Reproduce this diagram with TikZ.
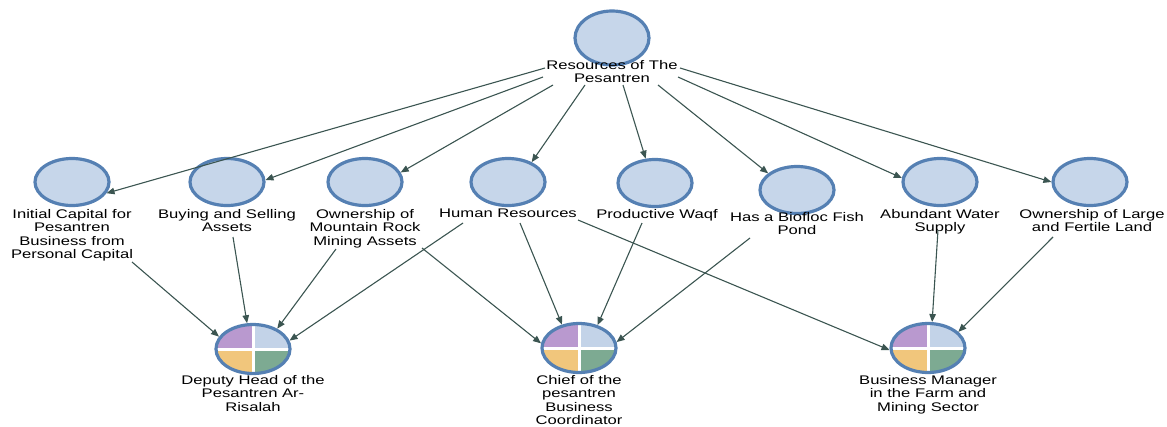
\documentclass[tikz,border=0pt]{standalone}
\usepackage{fontspec}
\setmainfont{Liberation Sans}[FakeStretch=1.33]
\usetikzlibrary{shapes.geometric,arrows.meta,calc}

\definecolor{rim}{HTML}{5580B3}
\definecolor{rimlight}{HTML}{9DB8DC}
\definecolor{face}{HTML}{C6D6EA}
\definecolor{qpurple}{HTML}{B999CF}
\definecolor{qblue}{HTML}{C3D3E8}
\definecolor{qgold}{HTML}{F1C67C}
\definecolor{qgreen}{HTML}{7DAA92}
\definecolor{linkcol}{HTML}{3B5551}

\tikzset{
  res/.style={ellipse, draw=rim, fill=face, line width=3.2pt,
    minimum width=74pt, minimum height=47pt, inner sep=0pt},
  role/.style={ellipse, draw=rim, line width=3.2pt,
    minimum width=74pt, minimum height=49pt, inner sep=0pt,
    path picture={
      \fill[qpurple] (path picture bounding box.center) rectangle (path picture bounding box.north west);
      \fill[qblue] (path picture bounding box.center) rectangle (path picture bounding box.north east);
      \fill[qgold] (path picture bounding box.center) rectangle (path picture bounding box.south west);
      \fill[qgreen] (path picture bounding box.center) rectangle (path picture bounding box.south east);
      \draw[white, line width=3pt]
        (path picture bounding box.north) -- (path picture bounding box.south)
        (path picture bounding box.west) -- (path picture bounding box.east);
    }},
  lbl/.style={anchor=north, inner sep=0pt, align=center,
    font=\fontsize{12.5}{13.5}\selectfont},
  link/.style={draw=linkcol, line width=1.1pt,
    -{Triangle[length=8pt,width=6.5pt]}},
}

\begin{document}
\begin{tikzpicture}[x=1pt, y=-1pt]
  \useasboundingbox (0,0) rectangle (1167,426);

  % source of all resources
  \node[res, minimum height=54pt] (top) at (612,38) {};
  \node[lbl] (topl) at (612,60) {Resources of The\\Pesantren};

  % resources
  \node[res] (ic) at (72,182) {};
  \node[res] (bs) at (227,182) {};
  \node[res] (mr) at (365,182) {};
  \node[res] (hr) at (508,182) {};
  \node[res] (pw) at (655,183) {};
  \node[res] (bf) at (797,190) {};
  \node[res] (aw) at (940,182) {};
  \node[res] (lf) at (1090,182) {};

  \node[lbl] (icl) at (72,209) {Initial Capital for\\Pesantren\\Business from\\Personal Capital};
  \node[lbl] (bsl) at (227,209) {Buying and Selling\\Assets};
  \node[lbl] (mrl) at (365,209) {Ownership of\\Mountain Rock\\Mining Assets};
  \node[lbl] (hrl) at (508,209) {Human Resources};
  \node[lbl] (pwl) at (657,209) {Productive Waqf};
  \node[lbl] (bfl) at (797,212) {Has a Biofloc Fish\\Pond};
  \node[lbl] (awl) at (940,209) {Abundant Water\\Supply};
  \node[lbl] (lfl) at (1092,209) {Ownership of Large\\and Fertile Land};

  % roles
  \node[role] (dh) at (253,349) {};
  \node[role] (cb) at (579,348) {};
  \node[role] (bm) at (928,348) {};

  \node[lbl] (dhl) at (253,375) {Deputy Head of the\\Pesantren Ar-\\Risalah};
  \node[lbl] (cbl) at (579,375) {Chief of the\\pesantren\\Business\\Coordinator};
  \node[lbl] (bml) at (928,375) {Business Manager\\in the Farm and\\Mining Sector};

  % resources of the pesantren
  \draw[link] ($(topl.north)+(-67,8)$) -- (ic.-18);
  \draw[link] ($(topl.north)+(-69,17)$) -- (bs.3);
  \draw[link] ($(topl.north)+(-59,25)$) -- (mr.15);
  \draw[link] ($(topl.north)+(-27,25)$) -- (hr.40);
  \draw[link] ($(topl.north)+(11,25)$) -- (pw.111);
  \draw[link] ($(topl.north)+(46,25)$) -- (bf.150);
  \draw[link] ($(topl.north)+(66,17)$) -- (aw.174);
  \draw[link] ($(topl.north)+(68,8)$) -- (lf.180);

  % resources to roles
  \draw[link] ($(icl.north)+(60,53)$) -- (dh.160);
  \draw[link] ($(bsl.north)+(6,28)$) -- (dh.103);
  \draw[link] ($(mrl.north)+(-29,40)$) -- (dh.40);
  \draw[link] ($(hrl.north)+(-45,14)$) -- (dh.13);
  \draw[link] ($(mrl.north)+(57,39)$) -- (cb.173);
  \draw[link] ($(hrl.north)+(12,14)$) -- (cb.126);
  \draw[link] ($(pwl.north)+(-15,14)$) -- (cb.51);
  \draw[link] ($(bfl.north)+(-47,26)$) -- (cb.9);
  \draw[link] ($(hrl.north)+(70,11)$) -- (bm.183);
  \draw[link] ($(awl.north)+(-2,21)$) -- (bm.81);
  \draw[link] ($(lfl.north)+(-39,28)$) -- (bm.28);
\end{tikzpicture}
\end{document}
